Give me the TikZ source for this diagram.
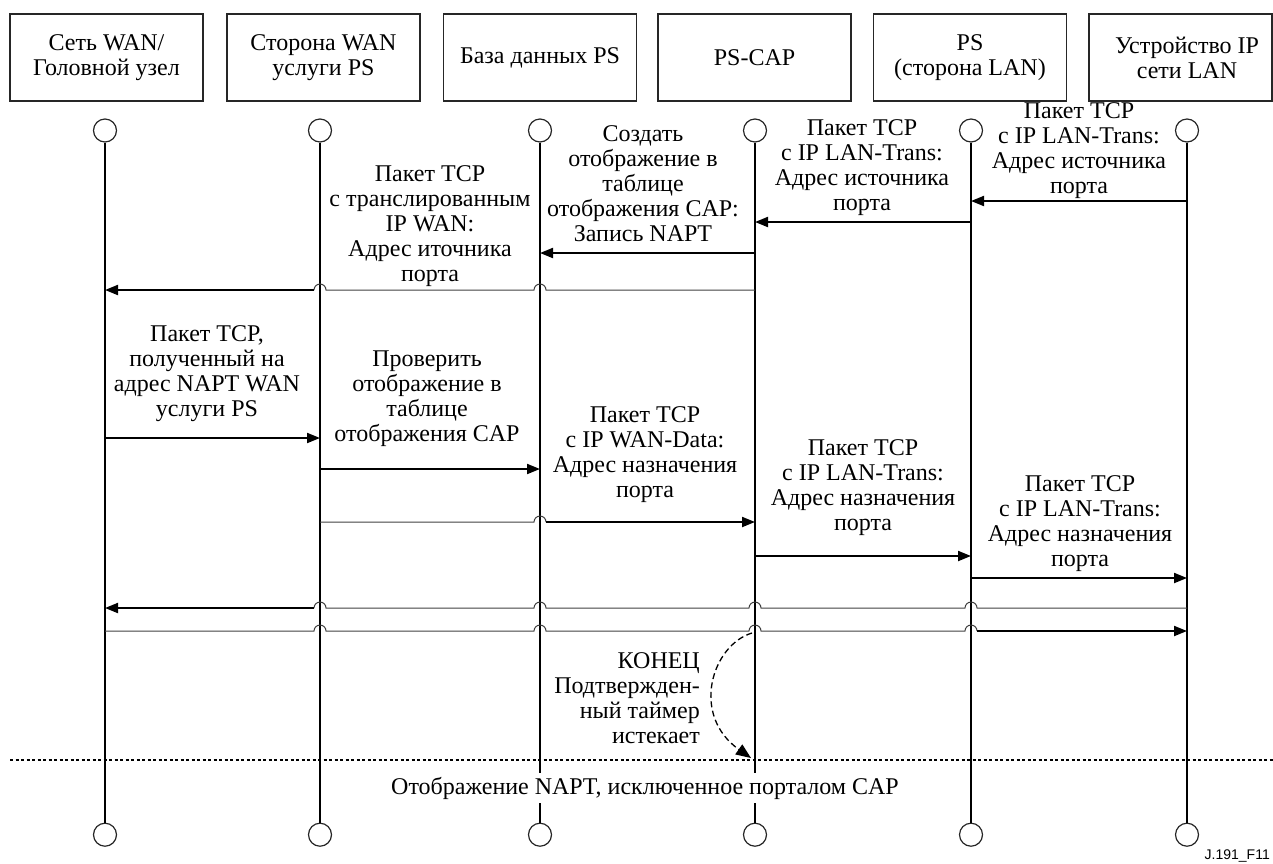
\documentclass[tikz,border=0pt]{standalone}
\usepackage{fontspec}
\setmainfont{Liberation Serif}
\newfontfamily\figsans{Liberation Sans}
\usetikzlibrary{arrows.meta,calc}

\begin{document}
\begin{tikzpicture}[x=1pt,y=1pt,
  lbl/.style={font=\fontsize{24}{25}\selectfont, align=center, inner sep=0pt},
  head/.style={draw=black!85, line width=1.3pt, minimum width=193pt, minimum height=87pt,
    align=center, font=\fontsize{24}{25}\selectfont, inner sep=0pt},
  endpt/.style={circle, draw=black!85, line width=1.2pt, minimum size=23pt, inner sep=0pt, fill=white},
  life/.style={line width=2.6pt},
  msg/.style={line width=2pt, -{Triangle[length=13pt,width=10pt]}},
  thinline/.style={line width=1pt, black!75},
  hopL/.style={insert path={-- ($(#1)+(6,0)$) arc[start angle=0,end angle=180,radius=6]}},
  hopR/.style={insert path={-- ($(#1)+(-6,0)$) arc[start angle=180,end angle=0,radius=6]}},
  timer/.style={line width=1.3pt, dash pattern=on 6pt off 3.5pt, -{Triangle[length=15pt,width=12pt]}},
  sep/.style={line width=2pt, dash pattern=on 3pt off 2.5pt},
]
\useasboundingbox (0,0) rectangle (1273,-863);

% participants
\node[head] (h1) at (106.5,-57.5) {Сеть WAN/\\Головной узел};
\node[head] (h2) at (323.5,-57.5) {Сторона WAN\\услуги PS};
\node[head] (h3) at (540,-57.5) {База данных PS};
\node[head] (h4) at (754.5,-57.5) {PS-CAP};
\node[head] (h5) at (970,-57.5) {PS\\(сторона LAN)};
\node[head, minimum width=183pt] (h6) at (1180.5,-57.5) {};
\node[lbl] (h6t) at (1187,-57.5) {Устройство IP\\сети LAN};

% lifelines with end circles
\foreach \i/\x in {1/105,2/320,3/540,4/755,5/971,6/1187}{
  \node[endpt] (t\i) at (\x,-130.5) {};
  \node[endpt] (b\i) at (\x,-834.7) {};
  \draw[life] (t\i) -- (b\i);
}

% message levels
\coordinate (m1) at (0,-201);
\coordinate (m2) at (0,-222);
\coordinate (m3) at (0,-253);
\coordinate (m4) at (0,-290);
\coordinate (m5) at (0,-438);
\coordinate (m6) at (0,-469);
\coordinate (m7) at (0,-522);
\coordinate (m8) at (0,-556);
\coordinate (m9) at (0,-578);
\coordinate (m10) at (0,-608);
\coordinate (m11) at (0,-631);
\coordinate (dl) at (0,-760);
\coordinate (dlL) at (10,-760);
\coordinate (dlR) at (1273,-760);

% outgoing connection
\draw[msg] (t6|-m1) -- (t5|-m1);
\draw[msg] (t5|-m2) -- (t4|-m2);
\draw[msg] (t4|-m3) -- (t3|-m3);
\draw[thinline] (t4|-m4) [hopL=t3|-m4] [hopL=t2|-m4];
\draw[msg] ($(t2|-m4)+(-6,0)$) -- (t1|-m4);

% incoming connection
\draw[msg] (t1|-m5) -- (t2|-m5);
\draw[msg] (t2|-m6) -- (t3|-m6);
\draw[thinline] (t2|-m7) [hopR=t3|-m7];
\draw[msg] ($(t3|-m7)+(6,0)$) -- (t4|-m7);
\draw[msg] (t4|-m8) -- (t5|-m8);
\draw[msg] (t5|-m9) -- (t6|-m9);

% end-to-end traffic
\draw[thinline] (t6|-m10) [hopL=t5|-m10] [hopL=t4|-m10] [hopL=t3|-m10] [hopL=t2|-m10];
\draw[msg] ($(t2|-m10)+(-6,0)$) -- (t1|-m10);
\draw[thinline] (t1|-m11) [hopR=t2|-m11] [hopR=t3|-m11] [hopR=t4|-m11] [hopR=t5|-m11];
\draw[msg] ($(t5|-m11)+(6,0)$) -- (t6|-m11);

% labels
\node[lbl] (la) at (1079,-151) {Пакет TCP\\с IP LAN-Trans:\\Адрес источника\\порта};
\node[lbl] (lb) at (862,-167.5) {Пакет TCP\\с IP LAN-Trans:\\Адрес источника\\порта};
\node[lbl] (lc) at (643,-184) {Создать\\отображение в\\таблице\\отображения CAP:\\Запись NAPT};
\node[lbl] (ld) at (430,-226) {Пакет TCP\\с транслированным\\IP WAN:\\Адрес иточника\\порта};
\node[lbl] (le) at (207,-374) {Пакет TCP,\\полученный на\\адрес NAPT WAN\\услуги PS};
\node[lbl] (lf) at (427,-399) {Проверить\\отображение в\\таблице\\отображения CAP};
\node[lbl] (lg) at (645,-455) {Пакет TCP\\с IP WAN-Data:\\Адрес назначения\\порта};
\node[lbl] (lh) at (863,-488) {Пакет TCP\\с IP LAN-Trans:\\Адрес назначения\\порта};
\node[lbl] (li) at (1080,-524) {Пакет TCP\\с IP LAN-Trans:\\Адрес назначения\\порта};

% timer expiry
\node[lbl, align=right, anchor=east] (kon) at (700,-698.5) {КОНЕЦ\\Подтвержден-\\ный таймер\\истекает};
\draw[timer] ($(t4|-m11)+(-3,-2)$) .. controls (712,-645) and (690,-715) .. ($(t4|-dl)+(-4,2)$);
\draw[sep] (dlL) -- (dlR);
\node[lbl, fill=white, inner xsep=3pt, inner ysep=4pt] (napt) at (645,-788) {Отображение NAPT, исключенное порталом CAP};

\node[font=\figsans\fontsize{14}{15}\selectfont, anchor=base east, inner sep=0pt] (fid) at (1270,-859) {J.191\_F11};
\end{tikzpicture}
\end{document}
